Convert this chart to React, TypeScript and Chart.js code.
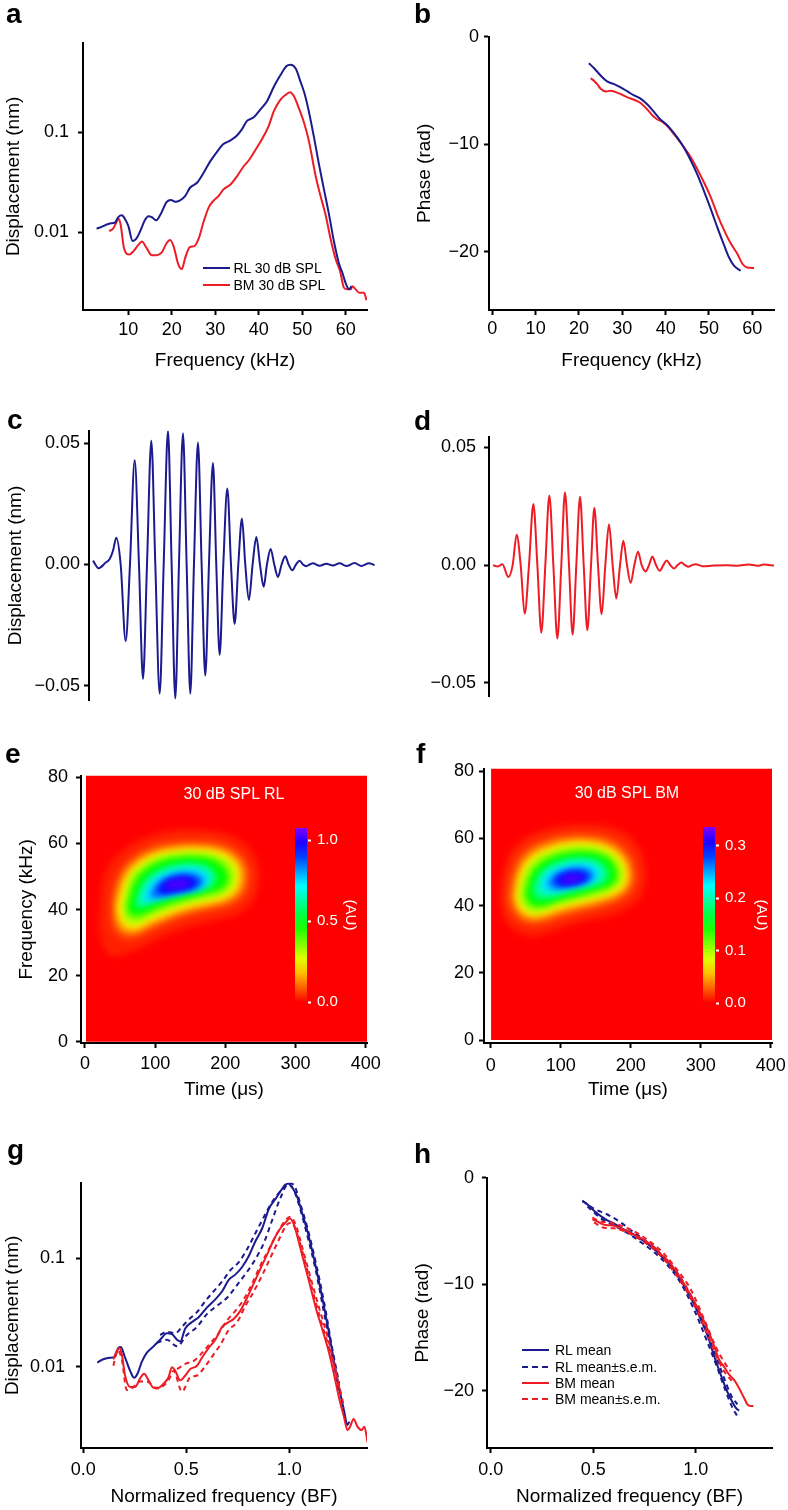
import React, { useEffect, useRef } from 'react';
import { Chart, registerables } from 'chart.js';

// Blur only the heat-map contour fills (registered before Filler so it wraps the fill)
const heatBlur = {
  id: 'heatBlur',
  beforeDatasetDraw(chart: any, args: any) {
    const ds = chart.data.datasets[args.index];
    if (ds && ds.blurPx) {
      const ctx = chart.ctx;
      const a = chart.chartArea;
      ctx.save();
      ctx.beginPath();
      ctx.rect(a.left, a.top, a.right - a.left, a.bottom - a.top);
      ctx.clip();
      ctx.filter = `blur(${ds.blurPx}px)`;
    }
  },
  afterDatasetDraw(chart: any, args: any) {
    const ds = chart.data.datasets[args.index];
    if (ds && ds.blurPx) chart.ctx.restore();
  },
};
Chart.register(heatBlur, ...registerables);

const FONT = "'Liberation Sans', Arial, Helvetica, sans-serif";
Chart.defaults.font.family = FONT;
const BLUE = '#1b1b8d';
const RED = '#ee1c25';
const TICK_FONT = 18;
const TITLE_FONT = 19;

// ---------------- Panel a ----------------
const A_RL_FREQ = [2.7, 3.5, 5.8, 6.9, 7.7, 8.5, 9.2, 10.0, 11.0, 11.8, 12.7, 13.8, 14.6, 15.4, 16.4, 17.3, 18.8, 19.8, 20.8, 21.8, 23.1, 24.2, 25.8, 27.3, 28.8, 30.4, 31.8, 33.5, 35.0, 36.2, 37.3, 38.8, 40.4, 41.9, 43.5, 45.0, 46.4, 47.3, 48.5, 49.6, 50.5, 51.5, 52.7, 53.8, 55.0, 56.2, 57.3, 58.5, 59.2, 60.0, 60.8, 61.3];
const A_RL_DISP = [0.0109, 0.0112, 0.0123, 0.0125, 0.0142, 0.0148, 0.0137, 0.0116, 0.0082, 0.0086, 0.0102, 0.0132, 0.0145, 0.0142, 0.0132, 0.0148, 0.0200, 0.0210, 0.0202, 0.0207, 0.0232, 0.0279, 0.0313, 0.0392, 0.0509, 0.0638, 0.0757, 0.0830, 0.0928, 0.108, 0.130, 0.140, 0.169, 0.204, 0.286, 0.372, 0.458, 0.472, 0.432, 0.320, 0.246, 0.163, 0.0894, 0.0491, 0.0269, 0.0148, 0.0081, 0.0048, 0.0040, 0.0031, 0.0027, 0.0029];
const A_BM_FREQ = [5.6, 6.5, 7.3, 7.7, 8.2, 9.0, 10.2, 11.2, 12.3, 13.1, 14.2, 15.4, 16.5, 17.7, 18.8, 19.6, 20.4, 21.5, 22.3, 23.1, 24.1, 25.2, 26.2, 27.3, 28.5, 29.6, 30.8, 31.9, 33.5, 35.0, 36.5, 37.9, 39.2, 40.8, 42.3, 43.5, 45.0, 46.4, 47.2, 48.1, 49.2, 50.4, 51.5, 53.1, 54.2, 55.4, 56.5, 57.7, 58.7, 59.6, 60.4, 61.2, 61.5, 62.3, 63.1, 63.8, 64.2, 64.8];
const A_BM_DISP = [0.0103, 0.0109, 0.0127, 0.0137, 0.0122, 0.0070, 0.0060, 0.0065, 0.0075, 0.0081, 0.0070, 0.0059, 0.0059, 0.0063, 0.0078, 0.0084, 0.0073, 0.0048, 0.0043, 0.0056, 0.0071, 0.0073, 0.0087, 0.0127, 0.0178, 0.0207, 0.0232, 0.0269, 0.0301, 0.0363, 0.0455, 0.0537, 0.0662, 0.086, 0.116, 0.163, 0.212, 0.240, 0.250, 0.228, 0.175, 0.125, 0.083, 0.0363, 0.0232, 0.0148, 0.0087, 0.0054, 0.0041, 0.0028, 0.0027, 0.0027, 0.0029, 0.0027, 0.0025, 0.0025, 0.0025, 0.0021];
const A_X_RANGE = [-0.42, 64.9];
const A_Y_RANGE = [0.00168, 0.781];
const A_X_TICKS = [10, 20, 30, 40, 50, 60];
const A_X_LABELS = ['10', '20', '30', '40', '50', '60'];
const A_Y_TICKS = [0.01, 0.1];
const A_Y_LABELS = ['0.01', '0.1'];
const A_LEGEND = ['RL 30 dB SPL', 'BM 30 dB SPL'];

// ---------------- Panel b ----------------
const B_RL_FREQ = [22.3, 23.5, 25.0, 26.5, 28.1, 29.6, 31.2, 32.7, 34.2, 35.8, 37.3, 38.8, 40.0, 41.2, 42.7, 44.2, 45.8, 47.3, 48.8, 50.4, 51.9, 53.5, 54.6, 55.8, 57.3];
const B_RL_PHASE = [-2.46, -2.92, -3.6, -4.15, -4.4, -4.7, -5.08, -5.45, -5.75, -6.3, -6.98, -7.69, -8.09, -8.6, -9.38, -10.3, -11.5, -12.8, -14.3, -16.0, -17.7, -19.4, -20.5, -21.3, -21.75];
const B_BM_FREQ = [22.7, 23.5, 24.2, 25.0, 26.2, 27.3, 28.5, 29.6, 31.2, 32.7, 34.2, 35.8, 36.9, 38.1, 39.2, 40.4, 41.5, 42.7, 44.2, 45.8, 47.3, 48.8, 50.4, 51.9, 53.5, 55.0, 56.5, 57.7, 58.8, 60.4];
const B_BM_PHASE = [-3.85, -4.1, -4.4, -4.83, -5.08, -5.02, -5.14, -5.32, -5.63, -5.85, -6.15, -6.77, -7.29, -7.69, -7.9, -8.3, -8.83, -9.45, -10.25, -11.2, -12.3, -13.5, -14.9, -16.5, -18.0, -19.2, -20.15, -21.1, -21.45, -21.5];
const B_X_RANGE = [-0.76, 65.0];
const B_Y_RANGE = [-25.4, 0];
const B_X_TICKS = [0, 10, 20, 30, 40, 50, 60];
const B_X_LABELS = ['0', '10', '20', '30', '40', '50', '60'];
const PHASE_TICKS = [-20, -10, 0];
const PHASE_LABELS = ['\u221220', '\u221210', '0'];

// ---------------- Panels c, d (time waveforms) ----------------
const C_TIME = [0, 8.0, 18.0, 23.7, 28.4, 33.1, 39.3, 46.4, 52.5, 59.2, 65.3, 71.0, 76.7, 82.8, 88.5, 94.7, 100.4, 106.5, 111.7, 116.9, 122.1, 127.8, 133.0, 138.2, 143.4, 149.1, 154.3, 159.5, 164.7, 170.4, 175.1, 179.9, 185.1, 190.8, 196.0, 201.2, 206.4, 211.6, 216.3, 221.5, 226.7, 232.0, 237.2, 242.4, 247.1, 252.3, 257.5, 262.7, 267.9, 273.1, 277.9, 283.1, 288.3, 293.5, 298.2, 303.0, 307.7, 312.4, 321.9, 331.4, 340.8, 350.3, 359.8, 371.6, 381.1, 392.0, 400.0];
const C_DISP = [0.0016, -0.0015, 0.0008, 0.0023, 0.0057, 0.0111, 0, -0.0316, 0, 0.0430, 0, -0.0472, 0, 0.0511, 0, -0.0533, 0, 0.0552, 0, -0.0553, 0, 0.0542, 0, -0.0533, 0, 0.0504, 0, -0.0458, 0, 0.0419, 0, -0.0373, 0, 0.0314, 0, -0.0245, 0, 0.0190, 0, -0.0146, 0, 0.0114, 0, -0.0092, 0, 0.0064, 0, -0.0051, 0, 0.0034, 0, -0.0024, 0, 0.0016, 0, -0.0007, 0, 0.0005, -0.0005, 0.0003, -0.0004, 0.0005, -0.0006, 0.0006, -0.0006, 0.0005, -0.0002];
const D_TIME = [0, 7.1, 13.3, 21.8, 27.9, 33.6, 39.3, 45.0, 51.1, 57.3, 63.0, 68.6, 74.3, 80.0, 85.7, 91.4, 97.0, 102.2, 107.9, 113.1, 118.3, 123.6, 128.8, 134.0, 139.2, 143.9, 149.1, 154.3, 159.5, 164.7, 169.9, 175.1, 180.4, 185.1, 190.3, 195.5, 200.7, 205.9, 211.1, 216.8, 221.5, 226.3, 231.5, 236.7, 241.9, 246.6, 251.8, 257.0, 262.2, 267.5, 272.7, 277.4, 282.6, 287.8, 297.3, 313.8, 332.8, 347.0, 363.6, 375.4, 384.9, 399.1];
const D_DISP = [-0.0001, -0.0006, 0.0004, -0.0051, 0, 0.0129, 0, -0.0207, 0, 0.0260, 0, -0.0287, 0, 0.0296, 0, -0.0312, 0, 0.0309, 0, -0.0296, 0, 0.0290, 0, -0.0277, 0, 0.0244, 0, -0.0209, 0, 0.0173, 0, -0.0142, 0, 0.0103, 0, -0.0076, 0, 0.0057, 0, -0.0027, 0, 0.0035, 0, -0.0024, 0, 0.0020, 0, -0.0014, 0, 0.0011, 0, -0.0007, 0, 0.0004, -0.0005, -0.0002, -0.0001, -0.0003, 0.0003, -0.0003, 0.0002, -0.0002];
const C_X_RANGE = [-5.7, 402];
const C_Y_RANGE = [-0.056, 0.0552];
const D_X_RANGE = [-5.7, 401.9];
const D_Y_RANGE = [-0.0557, 0.0545];
const WAVE_TICKS = [-0.05, 0, 0.05];
const WAVE_LABELS = ['\u22120.05', '0.00', '0.05'];

// ---------------- Panels e, f (time-frequency maps) ----------------
const TF_X_TICKS = [0, 100, 200, 300, 400];
const TF_X_LABELS = ['0', '100', '200', '300', '400'];
const TF_Y_TICKS = [0, 20, 40, 60, 80];
const TF_Y_LABELS = ['0', '20', '40', '60', '80'];
const E_X_RANGE = [-5.7, 401.9];
const E_Y_RANGE = [-0.39, 80.5];
const F_X_RANGE = [-9.6, 401.9];
const F_Y_RANGE = [-0.89, 80.7];
const E_EXTENT_T = [1.4, 410];
const E_EXTENT_F = [0, 81];
const F_EXTENT_T = [0.5, 410];
const F_EXTENT_F = [0, 81];
const E_VTOP = 1.076;
const F_VTOP = 0.336;
const E_CB_TICKS = [0, 0.5, 1.0];
const E_CB_LABELS = ['0.0', '0.5', '1.0'];
const F_CB_TICKS = [0, 0.1, 0.2, 0.3];
const F_CB_LABELS = ['0.0', '0.1', '0.2', '0.3'];

const E_LEVELS = [0.03, 0.05, 0.13, 0.22, 0.33, 0.48, 0.62, 0.74, 0.85, 0.95, 1.03];
const E_CONTOUR_T = [
  [21.4, 28.5, 54.6, 87.9, 125.9, 168.6, 206.6, 235.1, 247.0, 247.0, 239.9, 218.5, 187.6, 149.6, 116.4, 87.9, 59.4, 35.6, 21.4],
  [33.3, 40.4, 59.4, 87.9, 125.9, 163.9, 197.1, 223.3, 235.1, 237.5, 230.4, 211.4, 182.9, 149.6, 121.1, 92.6, 68.9, 47.5, 35.6],
  [40.4, 49.9, 68.9, 95.0, 128.3, 161.5, 192.4, 215.2, 228.0, 229.4, 223.3, 206.6, 180.5, 149.6, 121.1, 92.6, 71.3, 54.6, 42.8],
  [47.5, 59.4, 78.4, 102.1, 130.6, 159.1, 187.6, 206.6, 218.5, 220.9, 216.1, 201.9, 178.1, 149.6, 121.1, 92.6, 73.6, 59.4, 49.9, 46.1],
  [53.2, 64.1, 82.2, 104.5, 131.6, 159.1, 185.3, 201.9, 212.3, 214.2, 210.0, 197.1, 175.8, 148.2, 120.2, 92.6, 75.0, 63.2, 55.6],
  [60.3, 71.3, 87.9, 109.3, 133.0, 159.1, 180.5, 194.8, 202.8, 203.8, 199.5, 187.6, 168.6, 144.9, 118.8, 95.0, 78.4, 67.9, 61.8],
  [71.3, 80.8, 97.4, 116.4, 137.8, 159.1, 175.8, 185.3, 186.7, 180.5, 166.3, 144.9, 121.1, 99.8, 83.1, 73.6],
  [80.8, 90.3, 104.5, 123.5, 142.5, 161.5, 174.3, 177.2, 171.0, 156.8, 135.4, 114.0, 95.0, 84.1],
  [91.7, 99.8, 114.0, 131.6, 149.6, 163.9, 169.6, 164.8, 149.6, 128.3, 109.3, 96.4],
  [102.1, 110.7, 123.5, 140.1, 155.3, 160.1, 154.4, 140.1, 123.5, 109.3],
  [111.6, 118.8, 130.6, 144.9, 150.6, 144.9, 131.6, 118.8],
];
const E_CONTOUR_F = [
  [41.2, 51.1, 58.0, 62.0, 64.0, 64.1, 62.5, 58.5, 53.0, 47.6, 42.6, 38.7, 36.7, 34.7, 32.2, 29.3, 26.8, 26.3, 32.2],
  [42.2, 49.1, 55.0, 59.5, 61.5, 61.8, 60.8, 57.5, 53.0, 48.6, 44.1, 40.7, 39.0, 37.4, 35.4, 32.7, 30.5, 31.3, 35.2],
  [42.6, 49.9, 55.0, 58.2, 59.8, 60.0, 59.2, 56.8, 53.0, 49.1, 45.1, 42.2, 40.6, 39.1, 37.1, 34.4, 32.4, 32.7, 35.7],
  [43.1, 50.1, 54.5, 57.0, 58.2, 58.5, 57.8, 56.0, 53.0, 49.6, 46.1, 43.6, 42.1, 40.7, 38.7, 36.2, 34.2, 34.4, 36.7, 40.2],
  [40.7, 49.6, 53.5, 56.0, 57.2, 57.4, 56.7, 55.0, 52.6, 49.6, 46.6, 44.6, 43.2, 41.9, 40.0, 37.6, 35.8, 35.9, 37.7],
  [41.2, 48.6, 52.4, 54.8, 55.8, 56.0, 55.2, 53.5, 51.1, 49.1, 47.1, 45.6, 44.6, 43.3, 41.7, 39.7, 38.2, 38.2, 39.4],
  [42.2, 47.6, 51.1, 53.0, 54.0, 54.0, 53.0, 51.1, 49.1, 47.1, 45.8, 44.8, 43.5, 42.2, 40.7, 40.7],
  [43.1, 47.6, 50.3, 51.9, 52.6, 52.4, 50.9, 48.9, 47.1, 45.9, 44.9, 43.9, 42.6, 42.2],
  [44.1, 47.3, 49.6, 50.9, 51.1, 50.3, 48.6, 46.9, 45.8, 44.9, 43.9, 43.3],
  [45.6, 48.1, 49.5, 50.1, 49.6, 48.1, 46.6, 45.8, 45.1, 44.7],
  [46.6, 48.3, 49.1, 49.1, 48.1, 46.9, 46.3, 46.1],
];

const F_LEVELS = [0.009, 0.016, 0.040, 0.068, 0.102, 0.149, 0.192, 0.230, 0.264, 0.295, 0.320];
const F_CONTOUR_T = [
  [13.3, 20.4, 39.5, 70.4, 108.5, 146.6, 179.9, 206.1, 220.4, 218.0, 201.3, 170.4, 137.1, 106.1, 79.9, 51.4, 22.8],
  [19.5, 27.6, 45.7, 74.2, 108.5, 141.8, 174.2, 198.9, 210.8, 208.5, 191.8, 163.2, 132.3, 103.7, 77.6, 50.4, 27.6],
  [27.6, 35.7, 52.3, 78.5, 109.9, 140.9, 169.4, 190.9, 202.3, 199.9, 185.6, 158.5, 129.9, 101.4, 76.6, 52.8, 34.7],
  [34.7, 42.8, 58.5, 82.3, 110.9, 139.4, 165.6, 184.7, 195.1, 193.2, 180.9, 156.1, 127.5, 99.0, 75.2, 55.2, 40.9],
  [40.4, 48.5, 62.8, 84.7, 111.8, 138.5, 162.3, 179.0, 188.5, 187.0, 176.1, 153.7, 126.1, 98.0, 75.2, 58.1, 45.7],
  [49.0, 57.1, 69.5, 89.5, 113.3, 137.1, 158.5, 172.8, 179.9, 178.5, 169.4, 149.0, 122.8, 96.6, 75.2, 60.9, 52.3],
  [59.5, 66.6, 79.0, 96.6, 118.0, 138.0, 155.1, 165.6, 168.0, 161.8, 144.2, 120.4, 96.6, 75.2, 63.8],
  [69.5, 75.2, 87.1, 103.7, 122.8, 140.9, 153.7, 157.1, 152.3, 138.0, 118.0, 98.0, 79.0],
  [80.0, 87.1, 99.0, 114.2, 131.3, 144.2, 147.5, 142.8, 129.9, 110.9, 91.8],
  [89.5, 96.6, 108.5, 123.7, 136.1, 139.4, 133.3, 119.0, 102.8],
  [99.0, 106.1, 117.1, 128.5, 131.3, 126.6, 114.2, 103.7],
];
const F_CONTOUR_F = [
  [41.4, 52.2, 58.6, 62.2, 64.0, 64.2, 62.8, 59.1, 52.2, 44.3, 39.9, 36.9, 35.5, 33.7, 31.7, 31.0, 35.0],
  [42.3, 51.4, 57.1, 60.4, 62.0, 62.1, 60.8, 57.1, 51.2, 45.3, 41.4, 38.9, 37.2, 35.6, 34.0, 33.7, 37.2],
  [42.5, 50.7, 55.8, 58.8, 60.3, 60.4, 59.1, 55.8, 50.9, 45.8, 42.6, 40.4, 38.9, 37.4, 35.7, 35.5, 38.4],
  [42.8, 50.2, 54.7, 57.3, 58.8, 58.9, 57.6, 54.9, 50.7, 46.5, 43.8, 41.9, 40.4, 38.9, 37.2, 36.9, 39.2],
  [43.1, 49.7, 53.7, 56.1, 57.6, 57.7, 56.5, 54.1, 50.5, 47.0, 44.8, 43.0, 41.6, 40.1, 38.4, 38.2, 40.1],
  [43.8, 49.2, 52.4, 54.7, 55.9, 56.1, 55.2, 53.2, 50.2, 47.5, 45.7, 44.3, 42.8, 41.4, 39.9, 39.9, 41.4],
  [44.8, 48.7, 51.4, 53.2, 54.2, 54.2, 53.2, 51.2, 48.7, 46.8, 45.5, 44.3, 42.8, 41.9, 42.5],
  [45.3, 48.5, 50.7, 52.0, 52.8, 52.6, 51.2, 49.2, 47.5, 46.3, 45.3, 44.3, 43.8],
  [46.1, 48.7, 50.2, 51.2, 51.4, 50.4, 48.7, 47.3, 46.3, 45.5, 44.8],
  [46.8, 48.9, 49.9, 50.2, 49.7, 48.3, 47.1, 46.3, 45.8],
  [47.5, 48.9, 49.4, 49.2, 48.3, 47.3, 46.7, 46.7],
];

// ---------------- Panel g ----------------
const G_RL_MEAN_X = [0.068, 0.097, 0.130, 0.154, 0.170, 0.182, 0.203, 0.227, 0.247, 0.263, 0.284, 0.308, 0.341, 0.373, 0.406, 0.430, 0.455, 0.471, 0.495, 0.528, 0.560, 0.601, 0.641, 0.674, 0.706, 0.739, 0.771, 0.804, 0.836, 0.869, 0.901, 0.933, 0.966, 0.994, 1.015, 1.039, 1.063, 1.088, 1.120, 1.144, 1.169, 1.193, 1.218, 1.242, 1.266, 1.282, 1.291];
const G_RL_MEAN_Y = [0.0109, 0.0117, 0.0121, 0.0123, 0.0149, 0.0152, 0.0121, 0.0092, 0.0079, 0.0086, 0.0111, 0.0134, 0.0154, 0.0177, 0.0203, 0.0200, 0.0177, 0.0171, 0.0225, 0.0258, 0.0286, 0.0352, 0.0418, 0.0496, 0.0631, 0.0710, 0.0830, 0.1056, 0.144, 0.190, 0.286, 0.352, 0.438, 0.489, 0.447, 0.364, 0.258, 0.177, 0.0986, 0.0610, 0.0352, 0.0203, 0.0109, 0.0063, 0.0039, 0.0029, 0.0031];
const G_RL_UP_X = [0.373, 0.406, 0.446, 0.479, 0.511, 0.552, 0.593, 0.633, 0.674, 0.714, 0.755, 0.795, 0.836, 0.877, 0.909, 0.958, 0.994, 1.023, 1.055, 1.088, 1.128, 1.169, 1.209, 1.242];
const G_RL_UP_Y = [0.0196, 0.0210, 0.0203, 0.0233, 0.0271, 0.0318, 0.0404, 0.0496, 0.0610, 0.0776, 0.0921, 0.121, 0.171, 0.241, 0.313, 0.418, 0.496, 0.470, 0.310, 0.190, 0.092, 0.039, 0.0145, 0.0070];
const G_RL_LO_X = [0.357, 0.406, 0.455, 0.503, 0.552, 0.601, 0.649, 0.698, 0.747, 0.795, 0.836, 0.877, 0.917, 0.958, 0.994, 1.023, 1.055, 1.088, 1.128, 1.169, 1.209, 1.242];
const G_RL_LO_Y = [0.0166, 0.0177, 0.0154, 0.0196, 0.0233, 0.0307, 0.0364, 0.0432, 0.0569, 0.0749, 0.0986, 0.139, 0.225, 0.364, 0.479, 0.420, 0.275, 0.160, 0.078, 0.031, 0.0125, 0.0056];
const G_BM_MEAN_X = [0.146, 0.162, 0.175, 0.187, 0.203, 0.227, 0.252, 0.276, 0.295, 0.317, 0.341, 0.365, 0.390, 0.414, 0.430, 0.446, 0.471, 0.495, 0.519, 0.552, 0.576, 0.609, 0.641, 0.674, 0.706, 0.731, 0.763, 0.795, 0.828, 0.860, 0.893, 0.925, 0.958, 0.982, 1.003, 1.023, 1.047, 1.071, 1.096, 1.128, 1.161, 1.193, 1.218, 1.242, 1.266, 1.282, 1.295, 1.312, 1.331, 1.351, 1.364, 1.380];
const G_BM_MEAN_Y = [0.0117, 0.0139, 0.0149, 0.0130, 0.0083, 0.0065, 0.0065, 0.0078, 0.0086, 0.0075, 0.0064, 0.0064, 0.0070, 0.0080, 0.0099, 0.0092, 0.0075, 0.0083, 0.0095, 0.0102, 0.0121, 0.0149, 0.0177, 0.0233, 0.0258, 0.0277, 0.0329, 0.0432, 0.0589, 0.0803, 0.109, 0.149, 0.190, 0.213, 0.233, 0.203, 0.139, 0.0921, 0.0610, 0.0352, 0.0218, 0.0134, 0.0083, 0.0051, 0.0034, 0.0026, 0.0028, 0.0033, 0.0028, 0.0026, 0.0028, 0.0020];
const G_BM_UP_X = [0.455, 0.495, 0.536, 0.576, 0.617, 0.657, 0.698, 0.739, 0.779, 0.820, 0.860, 0.901, 0.942, 0.982, 1.006, 1.031, 1.063, 1.104, 1.144, 1.185, 1.226, 1.250];
const G_BM_UP_Y = [0.0095, 0.0106, 0.0113, 0.0134, 0.0165, 0.0203, 0.0267, 0.0329, 0.0418, 0.0589, 0.0860, 0.121, 0.171, 0.225, 0.241, 0.203, 0.125, 0.0653, 0.0352, 0.0190, 0.0089, 0.0055];
const G_BM_LO_X = [0.146, 0.166, 0.187, 0.211, 0.235, 0.276, 0.308, 0.357, 0.414, 0.438, 0.479, 0.519, 0.552, 0.593, 0.633, 0.666, 0.706, 0.747, 0.787, 0.828, 0.869, 0.909, 0.950, 0.987, 1.010, 1.039, 1.071, 1.112, 1.153, 1.193, 1.234, 1.266];
const G_BM_LO_Y = [0.0102, 0.0142, 0.0117, 0.0061, 0.0063, 0.0073, 0.0073, 0.0063, 0.0075, 0.0092, 0.0059, 0.0080, 0.0083, 0.0102, 0.0130, 0.0160, 0.0218, 0.0258, 0.0364, 0.0496, 0.0700, 0.102, 0.149, 0.203, 0.213, 0.165, 0.102, 0.0513, 0.0267, 0.0149, 0.0078, 0.0042];
const G_X_RANGE = [-0.011, 1.377];
const G_Y_RANGE = [0.00178, 0.496];
const BF_TICKS = [0, 0.5, 1.0];
const BF_LABELS = ['0.0', '0.5', '1.0'];

// ---------------- Panel h ----------------
const H_RL_MEAN_X = [0.447, 0.472, 0.504, 0.537, 0.569, 0.602, 0.634, 0.667, 0.699, 0.732, 0.764, 0.797, 0.829, 0.862, 0.894, 0.927, 0.959, 0.992, 1.024, 1.057, 1.089, 1.122, 1.146, 1.171, 1.195, 1.211];
const H_RL_MEAN_Y = [-2.2, -2.5, -3.1, -3.6, -4.0, -4.3, -4.7, -5.0, -5.35, -5.75, -6.2, -6.7, -7.3, -7.9, -8.7, -9.6, -10.7, -11.9, -13.3, -14.8, -16.7, -18.5, -19.75, -20.8, -21.6, -21.9];
const H_RL_UP_X = [0.447, 0.504, 0.569, 0.634, 0.699, 0.764, 0.829, 0.894, 0.959, 1.024, 1.089, 1.138, 1.171, 1.203];
const H_RL_UP_Y = [-2.15, -2.9, -3.45, -4.2, -5.15, -6.05, -7.15, -8.5, -10.45, -13.0, -16.3, -18.8, -20.4, -21.3];
const H_RL_LO_X = [0.472, 0.537, 0.602, 0.667, 0.732, 0.797, 0.862, 0.927, 0.992, 1.057, 1.106, 1.146, 1.179, 1.203];
const H_RL_LO_Y = [-2.7, -3.8, -4.5, -5.2, -6.05, -7.0, -8.2, -9.9, -12.4, -15.45, -17.9, -20.05, -21.6, -22.4];
const H_BM_MEAN_X = [0.496, 0.520, 0.545, 0.569, 0.602, 0.634, 0.667, 0.699, 0.732, 0.764, 0.797, 0.829, 0.862, 0.894, 0.927, 0.959, 0.992, 1.024, 1.057, 1.089, 1.114, 1.138, 1.163, 1.187, 1.211, 1.236, 1.252, 1.268, 1.281];
const H_BM_MEAN_Y = [-3.9, -4.1, -4.35, -4.45, -4.5, -4.75, -5.05, -5.35, -5.65, -6.05, -6.5, -7.15, -7.75, -8.5, -9.45, -10.5, -11.6, -12.8, -14.2, -15.75, -17.1, -17.75, -18.5, -19.0, -19.75, -20.7, -21.3, -21.45, -21.45];
const H_BM_UP_X = [0.496, 0.537, 0.585, 0.650, 0.715, 0.780, 0.846, 0.911, 0.976, 1.041, 1.098, 1.138, 1.171];
const H_BM_UP_Y = [-3.75, -4.1, -4.2, -4.6, -5.2, -6.05, -7.15, -8.7, -10.5, -13.3, -15.9, -17.3, -18.2];
const H_BM_LO_X = [0.504, 0.553, 0.602, 0.667, 0.732, 0.797, 0.862, 0.927, 0.992, 1.057, 1.106, 1.146, 1.179];
const H_BM_LO_Y = [-4.2, -4.7, -4.75, -5.15, -5.85, -6.75, -8.05, -9.75, -11.9, -14.7, -17.0, -18.4, -19.15];
const H_X_RANGE = [-0.018, 1.372];
const H_Y_RANGE = [-25.4, 0];
const H_LEGEND = ['RL mean', 'RL mean\u00b1s.e.m.', 'BM mean', 'BM mean\u00b1s.e.m.'];

// ---------------- helpers ----------------
type Frame = { L: number; T: number; R: number; B: number; yw: number; xh: number; pt: number; pr: number };
type Box = { left: number; top: number; width: number; height: number };

function boxOf(f: Frame): Box {
  return { left: f.L - f.yw, top: f.T - f.pt, width: f.yw + f.R - f.L + f.pr, height: f.pt + f.B - f.T + f.xh };
}

function makeAxis(o: any) {
  const color = o.color ?? '#000';
  return {
    type: o.type ?? 'linear',
    position: o.position,
    display: o.display ?? true,
    min: o.range[0],
    max: o.range[1],
    border: { display: true, color: o.borderColor ?? '#000', width: 2 },
    grid: { display: true, drawOnChartArea: false, drawTicks: true, tickLength: o.tickLen ?? 5, tickWidth: 2, color, tickColor: color },
    ticks: {
      color,
      font: { family: FONT, size: o.font ?? TICK_FONT },
      padding: o.pad ?? 3,
      autoSkip: false,
      maxRotation: 0,
      minRotation: 0,
      callback: (_v: any, i: number) => o.labels[i],
    },
    afterBuildTicks: (s: any) => { s.ticks = o.ticks.map((v: number) => ({ value: v })); },
    afterFit: (s: any) => {
      if (o.size != null) {
        if (o.position === 'bottom') s.height = o.size; else s.width = o.size;
      }
    },
    title: { display: !!o.title, text: o.title ?? '', color, font: { family: FONT, size: o.titleFont ?? TITLE_FONT }, padding: 0 },
  };
}

function series(xs: number[], ys: number[], color: string, dash?: number[]) {
  return {
    data: xs.map((x, i) => ({ x, y: ys[i] })),
    borderColor: color,
    backgroundColor: color,
    borderWidth: 2,
    borderDash: dash ?? [],
    pointRadius: 0,
    fill: false,
    cubicInterpolationMode: 'monotone',
  };
}

function lineConfig(datasets: any[], x: any, y: any, f: Frame, hideX = false) {
  return {
    type: 'line',
    data: { datasets },
    options: {
      responsive: true,
      maintainAspectRatio: false,
      animation: false,
      events: [],
      layout: { padding: { left: 0, top: f.pt, right: f.pr, bottom: hideX ? f.xh : 0 } },
      plugins: { legend: { display: false }, tooltip: { enabled: false }, title: { display: false } },
      scales: { x, y },
    },
  };
}

function heatColor(v: number, vtop: number) {
  const h = 270 * Math.max(0, Math.min(1, v / vtop));
  return `hsl(${h.toFixed(1)}, 100%, 50%)`;
}

// Chart.js paints dataset 0 last (on top): innermost contour first, background last.
function heatDatasets(extT: number[], extF: number[], levels: number[], ct: number[][], cf: number[][], vtop: number) {
  const contours: any[] = levels.map((lv, i) => {
    const pts = ct[i].map((t, j) => ({ x: t, y: cf[i][j] }));
    pts.push(pts[0]);
    return { data: pts, fill: 'shape', backgroundColor: heatColor(lv, vtop), borderWidth: 0, pointRadius: 0, tension: 0.45, blurPx: 3 };
  });
  const bg = {
    data: [
      { x: extT[0], y: extF[0] }, { x: extT[1], y: extF[0] },
      { x: extT[1], y: extF[1] }, { x: extT[0], y: extF[1] }, { x: extT[0], y: extF[0] },
    ],
    fill: 'shape', backgroundColor: heatColor(0, vtop), borderWidth: 0, pointRadius: 0, tension: 0,
  };
  return [...contours.reverse(), bg];
}

function colorbarConfig(vtop: number, ticks: number[], labels: string[], axisW: number) {
  return {
    type: 'bar',
    data: {
      labels: [''],
      datasets: [{
        data: [vtop],
        borderWidth: 0,
        barPercentage: 1,
        categoryPercentage: 1,
        backgroundColor: (c: any) => {
          const a = c.chart.chartArea;
          if (!a) return 'red';
          const g = c.chart.ctx.createLinearGradient(0, a.bottom, 0, a.top);
          for (let k = 0; k <= 12; k++) g.addColorStop(k / 12, `hsl(${(270 * k) / 12}, 100%, 50%)`);
          return g;
        },
      }],
    },
    options: {
      responsive: true,
      maintainAspectRatio: false,
      animation: false,
      events: [],
      layout: { padding: { left: 0, top: 12, right: 0, bottom: 12 } },
      plugins: { legend: { display: false }, tooltip: { enabled: false } },
      scales: {
        x: { display: false },
        y: makeAxis({ range: [0, vtop], ticks, labels, title: '(AU)', size: axisW, pad: 6, position: 'right', color: '#fff', tickLen: 4, borderColor: 'rgba(0,0,0,0)', font: 15, titleFont: 15 }),
      },
    },
  };
}

function ChartCanvas({ box, make }: { box: Box; make: () => any }) {
  const ref = useRef<HTMLCanvasElement | null>(null);
  useEffect(() => {
    if (!ref.current) return;
    const chart = new Chart(ref.current, make());
    return () => chart.destroy();
  }, []);
  return (
    <div style={{ position: 'absolute', left: box.left, top: box.top, width: box.width, height: box.height }}>
      <canvas ref={ref} />
    </div>
  );
}

// ---------------- frames (layout) ----------------
const FA: Frame = { L: 83, T: 37, R: 367, B: 310, yw: 81, xh: 62, pt: 14, pr: 12 };
const FB: Frame = { L: 489, T: 35, R: 774, B: 310, yw: 76, xh: 62, pt: 14, pr: 12 };
const FC: Frame = { L: 89, T: 430, R: 376, B: 703, yw: 85, xh: 12, pt: 14, pr: 12 };
const FD: Frame = { L: 489, T: 432, R: 776, B: 703, yw: 80, xh: 12, pt: 14, pr: 12 };
const FE: Frame = { L: 81, T: 771, R: 367, B: 1043, yw: 66, xh: 58, pt: 14, pr: 22 };
const FF: Frame = { L: 484, T: 767, R: 772, B: 1043, yw: 60, xh: 58, pt: 14, pr: 22 };
const FG: Frame = { L: 81, T: 1175, R: 367, B: 1448, yw: 80, xh: 60, pt: 14, pr: 12 };
const FH: Frame = { L: 487, T: 1173, R: 772, B: 1448, yw: 76, xh: 60, pt: 14, pr: 12 };
const CBE: Box = { left: 295, top: 813, width: 12 + 52, height: 12 + 180 + 12 };
const CBF: Box = { left: 703, top: 812, width: 12 + 55, height: 12 + 182 + 12 };

const makeA = () => lineConfig(
  [series(A_RL_FREQ, A_RL_DISP, BLUE), series(A_BM_FREQ, A_BM_DISP, RED)],
  makeAxis({ range: A_X_RANGE, ticks: A_X_TICKS, labels: A_X_LABELS, title: 'Frequency (kHz)', size: FA.xh, pad: 4, position: 'bottom' }),
  makeAxis({ type: 'logarithmic', range: A_Y_RANGE, ticks: A_Y_TICKS, labels: A_Y_LABELS, title: 'Displacement (nm)', size: FA.yw, pad: 9, position: 'left' }),
  FA,
);
const makeB = () => lineConfig(
  [series(B_RL_FREQ, B_RL_PHASE, BLUE), series(B_BM_FREQ, B_BM_PHASE, RED)],
  makeAxis({ range: B_X_RANGE, ticks: B_X_TICKS, labels: B_X_LABELS, title: 'Frequency (kHz)', size: FB.xh, pad: 3, position: 'bottom' }),
  makeAxis({ range: B_Y_RANGE, ticks: PHASE_TICKS, labels: PHASE_LABELS, title: 'Phase (rad)', size: FB.yw, pad: 5, position: 'left' }),
  FB,
);
const makeC = () => lineConfig(
  [series(C_TIME, C_DISP, BLUE)],
  makeAxis({ range: C_X_RANGE, ticks: [], labels: [], position: 'bottom', display: false }),
  makeAxis({ range: C_Y_RANGE, ticks: WAVE_TICKS, labels: WAVE_LABELS, title: 'Displacement (nm)', size: FC.yw, pad: 4, position: 'left' }),
  FC, true,
);
const makeD = () => lineConfig(
  [series(D_TIME, D_DISP, RED)],
  makeAxis({ range: D_X_RANGE, ticks: [], labels: [], position: 'bottom', display: false }),
  makeAxis({ range: D_Y_RANGE, ticks: WAVE_TICKS, labels: WAVE_LABELS, size: FD.yw, pad: 8, position: 'left' }),
  FD, true,
);
const makeE = () => lineConfig(
  heatDatasets(E_EXTENT_T, E_EXTENT_F, E_LEVELS, E_CONTOUR_T, E_CONTOUR_F, E_VTOP),
  makeAxis({ range: E_X_RANGE, ticks: TF_X_TICKS, labels: TF_X_LABELS, title: 'Time (\u03bcs)', size: FE.xh, pad: 5, position: 'bottom' }),
  makeAxis({ range: E_Y_RANGE, ticks: TF_Y_TICKS, labels: TF_Y_LABELS, title: 'Frequency (kHz)', size: FE.yw, pad: 8, position: 'left' }),
  FE,
);
const makeF = () => lineConfig(
  heatDatasets(F_EXTENT_T, F_EXTENT_F, F_LEVELS, F_CONTOUR_T, F_CONTOUR_F, F_VTOP),
  makeAxis({ range: F_X_RANGE, ticks: TF_X_TICKS, labels: TF_X_LABELS, title: 'Time (\u03bcs)', size: FF.xh, pad: 7, position: 'bottom' }),
  makeAxis({ range: F_Y_RANGE, ticks: TF_Y_TICKS, labels: TF_Y_LABELS, size: FF.yw, pad: 5, position: 'left' }),
  FF,
);
const DASH = [5, 4];
const makeG = () => lineConfig(
  [
    series(G_BM_MEAN_X, G_BM_MEAN_Y, RED), series(G_BM_UP_X, G_BM_UP_Y, RED, DASH), series(G_BM_LO_X, G_BM_LO_Y, RED, DASH),
    series(G_RL_MEAN_X, G_RL_MEAN_Y, BLUE), series(G_RL_UP_X, G_RL_UP_Y, BLUE, DASH), series(G_RL_LO_X, G_RL_LO_Y, BLUE, DASH),
  ],
  makeAxis({ range: G_X_RANGE, ticks: BF_TICKS, labels: BF_LABELS, title: 'Normalized frequency (BF)', size: FG.xh, pad: 6, position: 'bottom' }),
  makeAxis({ type: 'logarithmic', range: G_Y_RANGE, ticks: A_Y_TICKS, labels: A_Y_LABELS, title: 'Displacement (nm)', size: FG.yw, pad: 11, position: 'left' }),
  FG,
);
const makeH = () => lineConfig(
  [
    series(H_BM_MEAN_X, H_BM_MEAN_Y, RED), series(H_BM_UP_X, H_BM_UP_Y, RED, DASH), series(H_BM_LO_X, H_BM_LO_Y, RED, DASH),
    series(H_RL_MEAN_X, H_RL_MEAN_Y, BLUE), series(H_RL_UP_X, H_RL_UP_Y, BLUE, DASH), series(H_RL_LO_X, H_RL_LO_Y, BLUE, DASH),
  ],
  makeAxis({ range: H_X_RANGE, ticks: BF_TICKS, labels: BF_LABELS, title: 'Normalized frequency (BF)', size: FH.xh, pad: 6, position: 'bottom' }),
  makeAxis({ range: H_Y_RANGE, ticks: PHASE_TICKS, labels: PHASE_LABELS, title: 'Phase (rad)', size: FH.yw, pad: 8, position: 'left' }),
  FH,
);
const makeCBE = () => colorbarConfig(E_VTOP, E_CB_TICKS, E_CB_LABELS, 52);
const makeCBF = () => colorbarConfig(F_VTOP, F_CB_TICKS, F_CB_LABELS, 55);

// ---------------- overlays ----------------
const LETTERS = [
  { t: 'a', x: 6, base: 24 }, { t: 'b', x: 414, base: 24 },
  { t: 'c', x: 7, base: 430 }, { t: 'd', x: 414, base: 430.5 },
  { t: 'e', x: 5, base: 764 }, { t: 'f', x: 416, base: 764 },
  { t: 'g', x: 7, base: 1160 }, { t: 'h', x: 414, base: 1164 },
];

function LegendRow({ x1, x2, tx, y, color, dashed, text }: any) {
  const bg = dashed ? `repeating-linear-gradient(to right, ${color} 0px, ${color} 6px, transparent 6px, transparent 10px)` : color;
  return (
    <>
      <div style={{ position: 'absolute', left: x1, top: y - 1, width: x2 - x1, height: 2, background: bg }} />
      <div style={{ position: 'absolute', left: tx, top: y - 8, lineHeight: '16px', fontSize: 14, color: '#000', whiteSpace: 'nowrap', fontFamily: FONT }}>{text}</div>
    </>
  );
}

export default function App() {
  return (
    <div style={{ position: 'absolute', left: 0, top: 0, width: 788, height: 1510, background: '#fff', overflow: 'hidden', fontFamily: FONT }}>
      <ChartCanvas box={boxOf(FA)} make={makeA} />
      <ChartCanvas box={boxOf(FB)} make={makeB} />
      <ChartCanvas box={boxOf(FC)} make={makeC} />
      <ChartCanvas box={boxOf(FD)} make={makeD} />
      <ChartCanvas box={boxOf(FE)} make={makeE} />
      <ChartCanvas box={boxOf(FF)} make={makeF} />
      <ChartCanvas box={boxOf(FG)} make={makeG} />
      <ChartCanvas box={boxOf(FH)} make={makeH} />
      <ChartCanvas box={CBE} make={makeCBE} />
      <ChartCanvas box={CBF} make={makeCBF} />

      {LETTERS.map((l) => (
        <div key={l.t} style={{ position: 'absolute', left: l.x, top: l.base - 23.7, fontSize: 28, lineHeight: '28px', fontWeight: 'bold', color: '#000' }}>{l.t}</div>
      ))}

      <div style={{ position: 'absolute', left: 134, top: 784, width: 200, textAlign: 'center', fontSize: 16, lineHeight: '19px', color: '#fff' }}>30 dB SPL RL</div>
      <div style={{ position: 'absolute', left: 527, top: 783, width: 200, textAlign: 'center', fontSize: 16, lineHeight: '19px', color: '#fff' }}>30 dB SPL BM</div>

      <LegendRow x1={203} x2={230} tx={233.5} y={268.3} color={BLUE} text={A_LEGEND[0]} />
      <LegendRow x1={203} x2={230} tx={233.5} y={285} color={RED} text={A_LEGEND[1]} />

      <LegendRow x1={522} x2={549} tx={555} y={1350} color={BLUE} text={H_LEGEND[0]} />
      <LegendRow x1={522} x2={549} tx={555} y={1366.5} color={BLUE} dashed text={H_LEGEND[1]} />
      <LegendRow x1={522} x2={549} tx={555} y={1382.5} color={RED} text={H_LEGEND[2]} />
      <LegendRow x1={522} x2={549} tx={555} y={1398.5} color={RED} dashed text={H_LEGEND[3]} />
    </div>
  );
}
